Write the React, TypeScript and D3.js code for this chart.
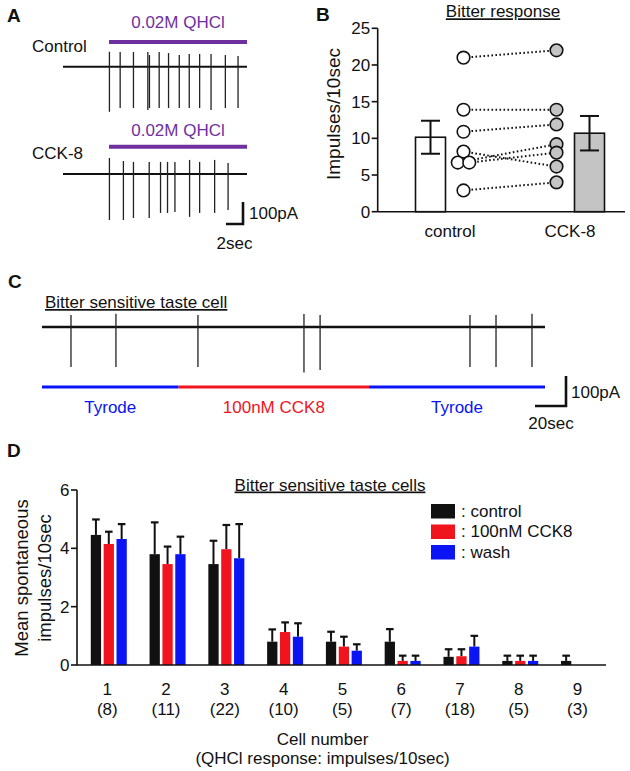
import React from "react";
import * as d3 from "d3";

const FONT = "'Liberation Sans', Arial, Helvetica, sans-serif";
const PURPLE = "#7030a0";
const BLUE = "#0a14f5";
const RED = "#f0141e";
const GREY = "#c4c4c4";
const INK = "#111";

// ---------- Panel A : spike recordings (time in s, amplitude in pA) ----------
const aStimLabel = "0.02M QHCl";
const aRowLabels = ["Control", "CCK-8"];
const aDuration = 21.6;
const aStimStart = 5.4;
const aStimEnd = 21.6;
const aSpikeTimesControl = [5.45, 6.71, 8.27, 9.96, 10.15, 11.29, 12.39, 13.65, 14.82, 16.04, 17.38, 19.06, 20.55];
const aSpikeUpControl = [68, 67, 67, 67, 53, 67, 62, 53, 58, 58, 58, 53, 49];
const aSpikeDownControl = [205, 188, 188, 197, 188, 188, 188, 188, 188, 188, 197, 188, 188];
const aSpikeTimesCck = [5.45, 7.09, 8.27, 10.12, 11.45, 12.27, 13.14, 14.86, 16.04, 17.8, 19.38];
const aSpikeUpCck = [73, 59, 55, 55, 55, 55, 55, 64, 55, 64, 50];
const aSpikeDownCck = [209, 209, 200, 200, 177, 177, 173, 195, 177, 177, 164];

// ---------- Panel B : bitter response ----------
const bTitle = "Bitter response";
const bCategories = ["control", "CCK-8"];
const bMeans = [10.15, 10.7];
const bSem = [2.25, 2.35];
const bControlCells = [21, 13.9, 10.9, 8.2, 6.7, 6.7, 2.9];
const bCckCells = [22, 13.9, 11.9, 6.15, 9.2, 8.05, 4.0];
const bTicks = [0, 5, 10, 15, 20, 25];

// ---------- Panel C : bitter sensitive taste cell ----------
const cTitle = "Bitter sensitive taste cell";
const cDuration = 324.5;
const cSegLabels = ["Tyrode", "100nM CCK8", "Tyrode"];
const cSegBounds = [0, 88.1, 211, 324.5];
const cSpikeTimes = [18.7, 47.7, 100.6, 169, 179.4, 276.1, 292.9, 316.1];
const cSpikeUp = [40, 44, 40, 43, 40, 40, 40, 44];
const cSpikeDown = [133, 133, 133, 152, 143, 133, 133, 133];

// ---------- Panel D : spontaneous impulses ----------
const dTitle = "Bitter sensitive taste cells";
const dCells = ["1", "2", "3", "4", "5", "6", "7", "8", "9"];
const dQhcl = ["(8)", "(11)", "(22)", "(10)", "(5)", "(7)", "(18)", "(5)", "(3)"];
const dSeries = [": control", ": 100nM CCK8", ": wash"];
const dControl = [4.46, 3.8, 3.46, 0.8, 0.8, 0.8, 0.28, 0.14, 0.14];
const dControlSem = [0.53, 1.09, 0.8, 0.42, 0.34, 0.43, 0.26, 0.18, 0.18];
const dCck = [4.15, 3.46, 3.97, 1.13, 0.63, 0.14, 0.3, 0.14, NaN];
const dCckSem = [0.42, 0.6, 0.83, 0.33, 0.34, 0.18, 0.24, 0.18, NaN];
const dWash = [4.32, 3.8, 3.66, 0.97, 0.49, 0.14, 0.63, 0.14, NaN];
const dWashSem = [0.51, 0.6, 1.17, 0.46, 0.22, 0.18, 0.37, 0.18, NaN];
const dTicks = [0, 2, 4, 6];

function PanelA() {
  const x = d3.scaleLinear().domain([0, aDuration]).range([63, 247]);
  const amp = d3.scaleLinear().domain([0, 100]).range([0, 22]);
  const rows = [
    { label: aRowLabels[0], base: 66.7, times: aSpikeTimesControl, up: aSpikeUpControl, down: aSpikeDownControl, titleY: 28, barY: 42, labelY: 51.5 },
    { label: aRowLabels[1], base: 174, times: aSpikeTimesCck, up: aSpikeUpCck, down: aSpikeDownCck, titleY: 136, barY: 146.7, labelY: 159 },
  ];
  const sbRight = 243;
  const sbBottom = 224;
  const sbW = x(2) - x(0);
  const sbH = amp(100);
  return (
    <g>
      <text x={7} y={21.5} fontSize={19} fontWeight="bold" fill={INK}>A</text>
      {rows.map((r, i) => (
        <g key={i}>
          <text x={(x(aStimStart) + x(aStimEnd)) / 2} y={r.titleY} fontSize={17} fill={PURPLE} textAnchor="middle">{aStimLabel}</text>
          <line x1={x(aStimStart)} x2={x(aStimEnd)} y1={r.barY} y2={r.barY} stroke={PURPLE} strokeWidth={4} />
          <text x={32} y={r.labelY} fontSize={17} fill={INK}>{r.label}</text>
          <line x1={x(0)} x2={x(aDuration)} y1={r.base} y2={r.base} stroke={INK} strokeWidth={2} />
          {r.times.map((t, j) => (
            <line key={j} x1={x(t)} x2={x(t)} y1={r.base - amp(r.up[j])} y2={r.base + amp(r.down[j])} stroke="#222" strokeWidth={1.3} />
          ))}
        </g>
      ))}
      <path d={`M${sbRight - sbW},${sbBottom} H${sbRight} V${sbBottom - sbH}`} fill="none" stroke={INK} strokeWidth={2.6} />
      <text x={sbRight + 6} y={sbBottom - 5} fontSize={17} fill={INK}>100pA</text>
      <text x={sbRight - sbW / 2} y={249} fontSize={17} fill={INK} textAnchor="middle">2sec</text>
    </g>
  );
}

function PanelB() {
  const y = d3.scaleLinear().domain([0, 25]).range([211.7, 28.3]);
  const xc = d3.scalePoint<string>().domain(bCategories).range([450, 570]);
  const axisX = 377.7;
  const axisEnd = 625;
  const barW = 30;
  const barOff = 19.5;
  const circOff = 13.5;
  const barX = (i: number) => (xc(bCategories[i]) as number) + (i === 0 ? -barOff : barOff);
  const circX = (i: number) => (xc(bCategories[i]) as number) + (i === 0 ? circOff : -circOff);
  // spread duplicated values horizontally
  const jitter = (arr: number[]) =>
    arr.map((v, i) => {
      const dups = arr.map((w, k) => (w === v ? k : -1)).filter((k) => k >= 0);
      if (dups.length < 2) return 0;
      const idx = dups.indexOf(i);
      return (idx - (dups.length - 1) / 2) * 11.5;
    });
  const jc = jitter(bControlCells);
  const jk = jitter(bCckCells);
  const r = 6.3;
  return (
    <g>
      <text x={316} y={21} fontSize={19} fontWeight="bold" fill={INK}>B</text>
      <text x={503} y={17.3} fontSize={17} textAnchor="middle" textDecoration="underline" fill={INK}>{bTitle}</text>
      <text transform={`translate(340,114) rotate(-90)`} fontSize={19} textAnchor="middle" fill={INK}>Impulses/10sec</text>
      {bMeans.map((m, i) => (
        <g key={i}>
          <rect x={barX(i) - barW / 2} y={y(m)} width={barW} height={y(0) - y(m)} fill={i === 0 ? "#fff" : GREY} stroke={INK} strokeWidth={1.6} />
          <line x1={barX(i)} x2={barX(i)} y1={y(m - bSem[i])} y2={y(m + bSem[i])} stroke={INK} strokeWidth={2} />
          <line x1={barX(i) - 9.5} x2={barX(i) + 9.5} y1={y(m + bSem[i])} y2={y(m + bSem[i])} stroke={INK} strokeWidth={2} />
          <line x1={barX(i) - 9.5} x2={barX(i) + 9.5} y1={y(m - bSem[i])} y2={y(m - bSem[i])} stroke={INK} strokeWidth={2} />
        </g>
      ))}
      {bControlCells.map((v, i) => (
        <line key={i} x1={circX(0) + jc[i]} y1={y(v)} x2={circX(1) + jk[i]} y2={y(bCckCells[i])} stroke={INK} strokeWidth={2} strokeDasharray="1.6,2.4" />
      ))}
      {bControlCells.map((v, i) => (
        <circle key={"c" + i} cx={circX(0) + jc[i]} cy={y(v)} r={r} fill="#fff" stroke={INK} strokeWidth={1.6} />
      ))}
      {bCckCells.map((v, i) => (
        <circle key={"k" + i} cx={circX(1) + jk[i]} cy={y(v)} r={r} fill={GREY} stroke={INK} strokeWidth={1.6} />
      ))}
      <line x1={axisX} x2={axisX} y1={y(25)} y2={y(0)} stroke={INK} strokeWidth={1.6} />
      <line x1={axisX} x2={axisEnd} y1={y(0)} y2={y(0)} stroke={INK} strokeWidth={1.6} />
      {bTicks.map((t) => (
        <g key={t}>
          <line x1={axisX - 6} x2={axisX} y1={y(t)} y2={y(t)} stroke={INK} strokeWidth={1.6} />
          <text x={axisX - 7.5} y={y(t)} dy="0.36em" fontSize={17} textAnchor="end" fill={INK}>{t}</text>
        </g>
      ))}
      {bCategories.map((c) => (
        <text key={c} x={xc(c)} y={237} fontSize={17} textAnchor="middle" fill={INK}>{c}</text>
      ))}
    </g>
  );
}

function PanelC() {
  const x = d3.scaleLinear().domain([0, cDuration]).range([42, 545]);
  const amp = d3.scaleLinear().domain([0, 100]).range([0, 30]);
  const base = 327;
  const barY = 387;
  const segColors = [BLUE, RED, BLUE];
  const sbRight = 566;
  const sbBottom = 406;
  const sbW = x(20) - x(0);
  return (
    <g>
      <text x={8} y={288} fontSize={19} fontWeight="bold" fill={INK}>C</text>
      <text x={45} y={308} fontSize={17} textDecoration="underline" fill={INK}>{cTitle}</text>
      <line x1={x(0)} x2={x(cDuration)} y1={base} y2={base} stroke={INK} strokeWidth={2.6} />
      {cSpikeTimes.map((t, i) => (
        <line key={i} x1={x(t)} x2={x(t)} y1={base - amp(cSpikeUp[i])} y2={base + amp(cSpikeDown[i])} stroke="#222" strokeWidth={1.3} />
      ))}
      {cSegLabels.map((l, i) => (
        <g key={i}>
          <line x1={x(cSegBounds[i])} x2={x(cSegBounds[i + 1])} y1={barY} y2={barY} stroke={segColors[i]} strokeWidth={3} />
          <text x={(x(cSegBounds[i]) + x(cSegBounds[i + 1])) / 2} y={413} fontSize={17} textAnchor="middle" fill={segColors[i]}>{l}</text>
        </g>
      ))}
      <path d={`M${sbRight - sbW},${sbBottom} H${sbRight} V${sbBottom - amp(100)}`} fill="none" stroke={INK} strokeWidth={2.6} />
      <text x={sbRight + 5} y={398} fontSize={17} fill={INK}>100pA</text>
      <text x={551} y={429} fontSize={17} textAnchor="middle" fill={INK}>20sec</text>
    </g>
  );
}

function PanelD() {
  const y = d3.scaleLinear().domain([0, 6]).range([665, 490]);
  const x = d3.scaleBand<string>().domain(dCells).range([79.4, 608.4]).padding(0);
  const inner = d3.scaleBand<number>().domain([0, 1, 2]).range([-18, 18]).paddingInner(0.2);
  const colors = [INK, RED, BLUE];
  const series = [dControl, dCck, dWash];
  const sems = [dControlSem, dCckSem, dWashSem];
  const axisX = 77;
  const bw = inner.bandwidth();
  const center = (c: string) => (x(c) as number) + x.bandwidth() / 2;
  const legendY = [504, 524.5, 545];
  return (
    <g>
      <text x={7} y={457} fontSize={19} fontWeight="bold" fill={INK}>D</text>
      <text x={330} y={490.5} fontSize={17} textAnchor="middle" textDecoration="underline" fill={INK}>{dTitle}</text>
      <text transform={`translate(27.5,578) rotate(-90)`} fontSize={18.5} textAnchor="middle" fill={INK}>Mean spontaneous</text>
      <text transform={`translate(51,578) rotate(-90)`} fontSize={18.5} textAnchor="middle" fill={INK}>impulses/10sec</text>
      {dCells.map((c, ci) => (
        <g key={c}>
          {series.map((s, si) => {
            const v = s[ci];
            if (!isFinite(v)) return null;
            const bx = center(c) + (inner(si) as number);
            const top = v + sems[si][ci];
            return (
              <g key={si}>
                <line x1={bx + bw / 2} x2={bx + bw / 2} y1={y(v)} y2={y(top)} stroke={INK} strokeWidth={2} />
                <line x1={bx + bw / 2 - 3.8} x2={bx + bw / 2 + 3.8} y1={y(top)} y2={y(top)} stroke={INK} strokeWidth={2.2} />
                <rect x={bx} y={y(v)} width={bw} height={y(0) - y(v)} fill={colors[si]} />
              </g>
            );
          })}
          <text x={center(c) - 1.5} y={695} fontSize={17} textAnchor="middle" fill={INK}>{c}</text>
          <text x={center(c) - 1.5} y={715} fontSize={17} textAnchor="middle" fill={INK}>{dQhcl[ci]}</text>
        </g>
      ))}
      <line x1={axisX} x2={axisX} y1={y(6)} y2={y(0)} stroke={INK} strokeWidth={1.6} />
      <line x1={axisX} x2={606} y1={y(0)} y2={y(0)} stroke={INK} strokeWidth={1.6} />
      {dTicks.map((t) => (
        <g key={t}>
          <line x1={axisX - 6} x2={axisX} y1={y(t)} y2={y(t)} stroke={INK} strokeWidth={1.6} />
          <text x={axisX - 7.5} y={y(t)} dy="0.36em" fontSize={17} textAnchor="end" fill={INK}>{t}</text>
        </g>
      ))}
      {dSeries.map((s, i) => (
        <g key={s}>
          <rect x={431} y={legendY[i]} width={24} height={14.5} fill={colors[i]} />
          <text x={461} y={legendY[i] + 12.5} fontSize={17} fill={INK}>{s}</text>
        </g>
      ))}
      <text x={322.5} y={745} fontSize={17} textAnchor="middle" fill={INK}>Cell number</text>
      <text x={322.5} y={764} fontSize={17} textAnchor="middle" fill={INK}>(QHCl response: impulses/10sec)</text>
    </g>
  );
}

export default function App() {
  return (
    <svg
      width={630}
      height={771}
      viewBox="0 0 630 771"
      style={{ position: "absolute", left: 0, top: 0, background: "#fff", fontFamily: FONT }}
      fontFamily={FONT}
    >
      <rect x={0} y={0} width={630} height={771} fill="#fff" />
      <PanelA />
      <PanelB />
      <PanelC />
      <PanelD />
    </svg>
  );
}
